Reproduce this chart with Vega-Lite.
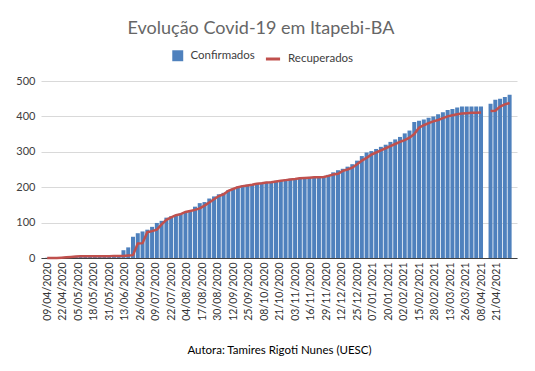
{
  "$schema": "https://vega.github.io/schema/vega-lite/v6.json",
  "width": 476,
  "height": 177,
  "autosize": {"type": "none"},
  "padding": {"left": 41, "top": 81, "right": 18, "bottom": 113},
  "background": "white",
  "title": {
    "text": "Evolução Covid-19 em Itapebi-BA",
    "font": "Lato",
    "fontSize": 18,
    "fontWeight": "normal",
    "color": "#666666",
    "anchor": "middle",
    "frame": "group",
    "dx": -18,
    "offset": 12
  },
  "config": {
    "view": {"stroke": null},
    "font": "Lato",
    "axisY": {
      "title": null,
      "labelFont": "Lato",
      "labelFontSize": 11,
      "labelColor": "#404040",
      "labelPadding": 6,
      "labelOverlap": false,
      "labelFlush": false,
      "ticks": false,
      "domain": false,
      "grid": true,
      "gridColor": "#d9d9d9",
      "gridWidth": 1,
      "gridOpacity": 1
    }
  },
  "data": {
    "values": [
      {"d": "2020-04-09", "c": 1, "r": 0},
      {"d": "2020-04-13", "c": 1, "r": 0},
      {"d": "2020-04-17", "c": 2, "r": 0},
      {"d": "2020-04-21", "c": 2, "r": 1},
      {"d": "2020-04-25", "c": 3, "r": 2},
      {"d": "2020-04-29", "c": 4, "r": 3},
      {"d": "2020-05-03", "c": 5, "r": 4},
      {"d": "2020-05-07", "c": 5, "r": 5},
      {"d": "2020-05-11", "c": 5, "r": 5},
      {"d": "2020-05-15", "c": 5, "r": 5},
      {"d": "2020-05-19", "c": 5, "r": 5},
      {"d": "2020-05-23", "c": 5, "r": 5},
      {"d": "2020-05-27", "c": 6, "r": 5},
      {"d": "2020-05-31", "c": 6, "r": 5},
      {"d": "2020-06-04", "c": 7, "r": 6},
      {"d": "2020-06-08", "c": 8, "r": 6},
      {"d": "2020-06-12", "c": 22, "r": 6},
      {"d": "2020-06-16", "c": 30, "r": 7},
      {"d": "2020-06-20", "c": 60, "r": 8},
      {"d": "2020-06-24", "c": 70, "r": 41},
      {"d": "2020-06-28", "c": 75, "r": 42},
      {"d": "2020-07-02", "c": 80, "r": 73},
      {"d": "2020-07-06", "c": 88, "r": 76},
      {"d": "2020-07-10", "c": 99, "r": 80},
      {"d": "2020-07-14", "c": 105, "r": 95},
      {"d": "2020-07-18", "c": 114, "r": 108},
      {"d": "2020-07-22", "c": 118, "r": 115},
      {"d": "2020-07-26", "c": 121, "r": 121},
      {"d": "2020-07-30", "c": 126, "r": 124},
      {"d": "2020-08-03", "c": 130, "r": 130},
      {"d": "2020-08-07", "c": 135, "r": 133},
      {"d": "2020-08-11", "c": 145, "r": 136},
      {"d": "2020-08-15", "c": 155, "r": 140},
      {"d": "2020-08-19", "c": 158, "r": 148},
      {"d": "2020-08-23", "c": 168, "r": 157},
      {"d": "2020-08-27", "c": 174, "r": 166},
      {"d": "2020-08-31", "c": 180, "r": 175},
      {"d": "2020-09-04", "c": 184, "r": 180},
      {"d": "2020-09-08", "c": 192, "r": 190},
      {"d": "2020-09-12", "c": 196, "r": 195},
      {"d": "2020-09-16", "c": 202, "r": 200},
      {"d": "2020-09-20", "c": 205, "r": 203},
      {"d": "2020-09-24", "c": 207, "r": 205},
      {"d": "2020-09-28", "c": 209, "r": 207},
      {"d": "2020-10-02", "c": 212, "r": 210},
      {"d": "2020-10-06", "c": 213, "r": 211},
      {"d": "2020-10-10", "c": 215, "r": 213},
      {"d": "2020-10-14", "c": 216, "r": 214},
      {"d": "2020-10-18", "c": 218, "r": 216},
      {"d": "2020-10-22", "c": 220, "r": 218},
      {"d": "2020-10-26", "c": 222, "r": 220},
      {"d": "2020-10-30", "c": 224, "r": 222},
      {"d": "2020-11-03", "c": 226, "r": 223},
      {"d": "2020-11-07", "c": 227, "r": 225},
      {"d": "2020-11-11", "c": 228, "r": 226},
      {"d": "2020-11-15", "c": 229, "r": 227},
      {"d": "2020-11-19", "c": 229, "r": 228},
      {"d": "2020-11-23", "c": 229, "r": 228},
      {"d": "2020-11-27", "c": 230, "r": 229},
      {"d": "2020-12-01", "c": 235, "r": 232},
      {"d": "2020-12-05", "c": 242, "r": 236},
      {"d": "2020-12-09", "c": 248, "r": 238},
      {"d": "2020-12-13", "c": 252, "r": 246},
      {"d": "2020-12-17", "c": 258, "r": 250},
      {"d": "2020-12-21", "c": 265, "r": 255},
      {"d": "2020-12-25", "c": 275, "r": 265},
      {"d": "2020-12-29", "c": 288, "r": 275},
      {"d": "2021-01-02", "c": 298, "r": 283},
      {"d": "2021-01-06", "c": 302, "r": 292},
      {"d": "2021-01-10", "c": 308, "r": 298},
      {"d": "2021-01-14", "c": 314, "r": 304},
      {"d": "2021-01-18", "c": 320, "r": 310},
      {"d": "2021-01-22", "c": 328, "r": 316},
      {"d": "2021-01-26", "c": 335, "r": 322},
      {"d": "2021-01-30", "c": 342, "r": 328},
      {"d": "2021-02-03", "c": 352, "r": 333},
      {"d": "2021-02-07", "c": 360, "r": 340},
      {"d": "2021-02-11", "c": 384, "r": 350},
      {"d": "2021-02-15", "c": 388, "r": 368},
      {"d": "2021-02-19", "c": 391, "r": 375},
      {"d": "2021-02-23", "c": 396, "r": 381},
      {"d": "2021-02-27", "c": 400, "r": 386},
      {"d": "2021-03-03", "c": 406, "r": 390},
      {"d": "2021-03-07", "c": 412, "r": 395},
      {"d": "2021-03-11", "c": 418, "r": 400},
      {"d": "2021-03-15", "c": 421, "r": 403},
      {"d": "2021-03-19", "c": 425, "r": 406},
      {"d": "2021-03-23", "c": 428, "r": 408},
      {"d": "2021-03-27", "c": 428, "r": 409},
      {"d": "2021-03-31", "c": 428, "r": 410},
      {"d": "2021-04-04", "c": 428, "r": 410},
      {"d": "2021-04-08", "c": 428, "r": 411},
      {"d": "2021-04-12", "c": null, "r": null},
      {"d": "2021-04-16", "c": 436, "r": 415},
      {"d": "2021-04-20", "c": 447, "r": 416},
      {"d": "2021-04-24", "c": 450, "r": 428},
      {"d": "2021-04-28", "c": 455, "r": 434},
      {"d": "2021-05-02", "c": 461, "r": 438}
    ]
  },
  "encoding": {
    "x": {
      "field": "d",
      "type": "temporal",
      "scale": {
        "type": "utc",
        "domain": [
          {"year": 2020, "month": 4, "date": 8, "utc": true},
          {"year": 2021, "month": 5, "date": 4, "utc": true}
        ]
      },
      "axis": {
        "title": "Autora: Tamires Rigoti Nunes (UESC)",
        "titleFont": "Lato",
        "titleFontSize": 11.5,
        "titleFontWeight": "normal",
        "titleColor": "#000000",
        "titlePadding": 24,
        "format": "%d/%m/%Y",
        "labelAngle": -90,
        "labelFont": "Lato",
        "labelFontSize": 10.5,
        "labelColor": "#333333",
        "labelPadding": 4,
        "labelOverlap": false,
        "labelFlush": false,
        "labelBound": false,
        "ticks": false,
        "grid": false,
        "domainColor": "#404040",
        "domainWidth": 1,
        "values": [
          {"year": 2020, "month": 4, "date": 9, "utc": true},
          {"year": 2020, "month": 4, "date": 22, "utc": true},
          {"year": 2020, "month": 5, "date": 5, "utc": true},
          {"year": 2020, "month": 5, "date": 18, "utc": true},
          {"year": 2020, "month": 5, "date": 31, "utc": true},
          {"year": 2020, "month": 6, "date": 13, "utc": true},
          {"year": 2020, "month": 6, "date": 26, "utc": true},
          {"year": 2020, "month": 7, "date": 9, "utc": true},
          {"year": 2020, "month": 7, "date": 22, "utc": true},
          {"year": 2020, "month": 8, "date": 4, "utc": true},
          {"year": 2020, "month": 8, "date": 17, "utc": true},
          {"year": 2020, "month": 8, "date": 30, "utc": true},
          {"year": 2020, "month": 9, "date": 12, "utc": true},
          {"year": 2020, "month": 9, "date": 25, "utc": true},
          {"year": 2020, "month": 10, "date": 8, "utc": true},
          {"year": 2020, "month": 10, "date": 21, "utc": true},
          {"year": 2020, "month": 11, "date": 3, "utc": true},
          {"year": 2020, "month": 11, "date": 16, "utc": true},
          {"year": 2020, "month": 11, "date": 29, "utc": true},
          {"year": 2020, "month": 12, "date": 12, "utc": true},
          {"year": 2020, "month": 12, "date": 25, "utc": true},
          {"year": 2021, "month": 1, "date": 7, "utc": true},
          {"year": 2021, "month": 1, "date": 20, "utc": true},
          {"year": 2021, "month": 2, "date": 2, "utc": true},
          {"year": 2021, "month": 2, "date": 15, "utc": true},
          {"year": 2021, "month": 2, "date": 28, "utc": true},
          {"year": 2021, "month": 3, "date": 13, "utc": true},
          {"year": 2021, "month": 3, "date": 26, "utc": true},
          {"year": 2021, "month": 4, "date": 8, "utc": true},
          {"year": 2021, "month": 4, "date": 21, "utc": true}
        ]
      }
    }
  },
  "layer": [
    {
      "mark": {"type": "bar", "size": 4},
      "encoding": {
        "y": {
          "field": "c",
          "type": "quantitative",
          "scale": {"domain": [0, 500], "nice": false, "zero": true},
          "axis": {"values": [0, 100, 200, 300, 400, 500], "grid": true}
        },
        "fill": {
          "datum": "Confirmados",
          "scale": {"range": ["#4F81BD"]},
          "legend": {
            "title": null,
            "orient": "none",
            "legendX": 131,
            "legendY": -31,
            "symbolType": "square",
            "symbolSize": 120,
            "symbolStrokeWidth": 0,
            "labelFont": "Lato",
            "labelFontSize": 11.5,
            "labelColor": "#404040",
            "labelOffset": 7
          }
        }
      }
    },
    {
      "mark": {"type": "line", "strokeWidth": 2.5, "invalid": "break-paths-show-domains"},
      "encoding": {
        "y": {
          "field": "r",
          "type": "quantitative",
          "axis": {"values": [0, 100, 200, 300, 400, 500], "grid": true}
        },
        "stroke": {
          "datum": "Recuperados",
          "scale": {"range": ["#C0504D"]},
          "legend": {
            "title": null,
            "orient": "none",
            "legendX": 223,
            "legendY": -31,
            "symbolType": "stroke",
            "symbolSize": 200,
            "symbolStrokeWidth": 3,
            "labelFont": "Lato",
            "labelFontSize": 11.5,
            "labelColor": "#404040",
            "labelOffset": 6
          }
        }
      }
    }
  ]
}
